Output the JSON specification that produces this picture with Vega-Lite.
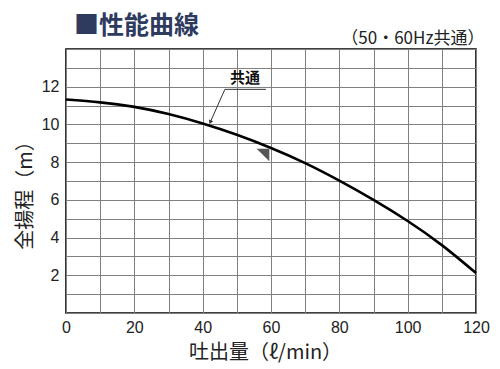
{
  "$schema": "https://vega.github.io/schema/vega-lite/v6.json",
  "width": 410,
  "height": 264,
  "autosize": {"type": "none"},
  "padding": {"left": 66, "top": 49, "right": 24, "bottom": 56},
  "background": "white",
  "title": {
    "text": "■性能曲線",
    "anchor": "start",
    "frame": "group",
    "font": "Noto Sans CJK JP",
    "fontSize": 25,
    "fontWeight": "bold",
    "color": "#2e3b5f",
    "dx": 8,
    "dy": 10,
    "offset": 0
  },
  "config": {
    "view": {"stroke": "#000", "strokeWidth": 1.6}
  },
  "datasets": {
    "curve": [
      {"x": 0, "y": 11.32},
      {"x": 10, "y": 11.17},
      {"x": 20, "y": 10.93},
      {"x": 30, "y": 10.55},
      {"x": 40, "y": 10.05},
      {"x": 50, "y": 9.45},
      {"x": 60, "y": 8.75},
      {"x": 70, "y": 7.95},
      {"x": 80, "y": 7.02},
      {"x": 90, "y": 6.0},
      {"x": 100, "y": 4.88},
      {"x": 110, "y": 3.6},
      {"x": 120, "y": 2.12}
    ],
    "leader": [
      {"x": 46.5, "y": 11.86, "x2": 58.5, "y2": 11.86},
      {"x": 46.5, "y": 11.86, "x2": 42.3, "y2": 10.15}
    ],
    "arrow": [
      {"x": 42.3, "y": 10.15}
    ],
    "label": [
      {"x": 52.4, "y": 12.45, "text": "共通"}
    ],
    "marker": [
      {"x": 57.66, "y": 8.38}
    ]
  },
  "encoding": {
    "y": {
      "field": "y",
      "type": "quantitative",
      "scale": {"domain": [0, 14], "nice": false, "zero": false},
      "axis": {
        "values": [0, 1, 2, 3, 4, 5, 6, 7, 8, 9, 10, 11, 12, 13, 14],
        "labelExpr": "datum.value >= 2 && datum.value <= 12 && datum.value % 2 == 0 ? datum.label : ''",
        "grid": true,
        "gridColor": "#808080",
        "gridWidth": 1,
        "ticks": false,
        "domain": false,
        "labelFont": "Liberation Sans",
        "labelFontSize": 16,
        "labelColor": "#222",
        "labelPadding": 7,
        "title": "全揚程（m）",
        "titleFont": "Noto Sans CJK JP",
        "titleFontSize": 20,
        "titleFontWeight": "normal",
        "titleColor": "#222",
        "titleX": -41,
        "titleY": 141,
        "titleBaseline": "middle",
        "titleAngle": -90
      }
    }
  },
  "layer": [
    {
      "data": {"name": "curve"},
      "mark": {"type": "line", "color": "#000", "strokeWidth": 2.6, "interpolate": "natural"},
      "encoding": {
        "x": {
          "field": "x",
          "type": "quantitative",
          "scale": {"domain": [0, 120], "nice": false, "zero": false},
          "axis": {
            "orient": "bottom",
            "values": [0, 10, 20, 30, 40, 50, 60, 70, 80, 90, 100, 110, 120],
            "labelExpr": "datum.value % 20 == 0 ? datum.label : ''",
            "grid": true,
            "gridColor": "#808080",
            "gridWidth": 1,
            "ticks": false,
            "domain": false,
            "labelFont": "Liberation Sans",
            "labelFontSize": 16,
            "labelColor": "#222",
            "labelPadding": 6,
            "labelFlush": false,
            "title": "吐出量（ℓ/min）",
            "titleFont": "Noto Sans CJK JP",
            "titleFontSize": 20,
            "titleFontWeight": "normal",
            "titleColor": "#222",
            "titleX": 199,
            "titleY": 39,
            "titleBaseline": "middle"
          }
        }
      }
    },
    {
      "data": {"name": "leader"},
      "mark": {"type": "rule", "color": "#333", "strokeWidth": 1},
      "encoding": {
        "x": {
          "field": "x",
          "type": "quantitative",
          "axis": {
            "orient": "top",
            "grid": false,
            "ticks": false,
            "labels": false,
            "domain": false,
            "title": "（50・60Hz共通）",
            "titleFont": "Noto Sans CJK JP",
            "titleFontSize": 17,
            "titleFontWeight": "normal",
            "titleColor": "#222",
            "titleAnchor": "end",
            "titleAlign": "right",
            "titleX": 418,
            "titleY": -11,
            "titleBaseline": "middle"
          }
        },
        "x2": {"field": "x2"},
        "y2": {"field": "y2"}
      }
    },
    {
      "data": {"name": "arrow"},
      "mark": {"type": "point", "shape": "triangle", "filled": true, "color": "#333", "size": 22, "angle": 204, "opacity": 1},
      "encoding": {
        "x": {"field": "x", "type": "quantitative", "axis": null}
      }
    },
    {
      "data": {"name": "label"},
      "mark": {"type": "text", "font": "Noto Sans CJK JP", "fontSize": 15, "fontWeight": "bold", "color": "#111", "baseline": "middle", "align": "center"},
      "encoding": {
        "x": {"field": "x", "type": "quantitative", "axis": null},
        "text": {"field": "text"}
      }
    },
    {
      "data": {"name": "marker"},
      "mark": {"type": "point", "shape": "M -1 -1 L 1 -1 L 1 1 Z", "filled": true, "color": "#555", "size": 160, "opacity": 1},
      "encoding": {
        "x": {"field": "x", "type": "quantitative", "axis": null}
      }
    }
  ],
  "resolve": {"axis": {"x": "independent"}}
}
